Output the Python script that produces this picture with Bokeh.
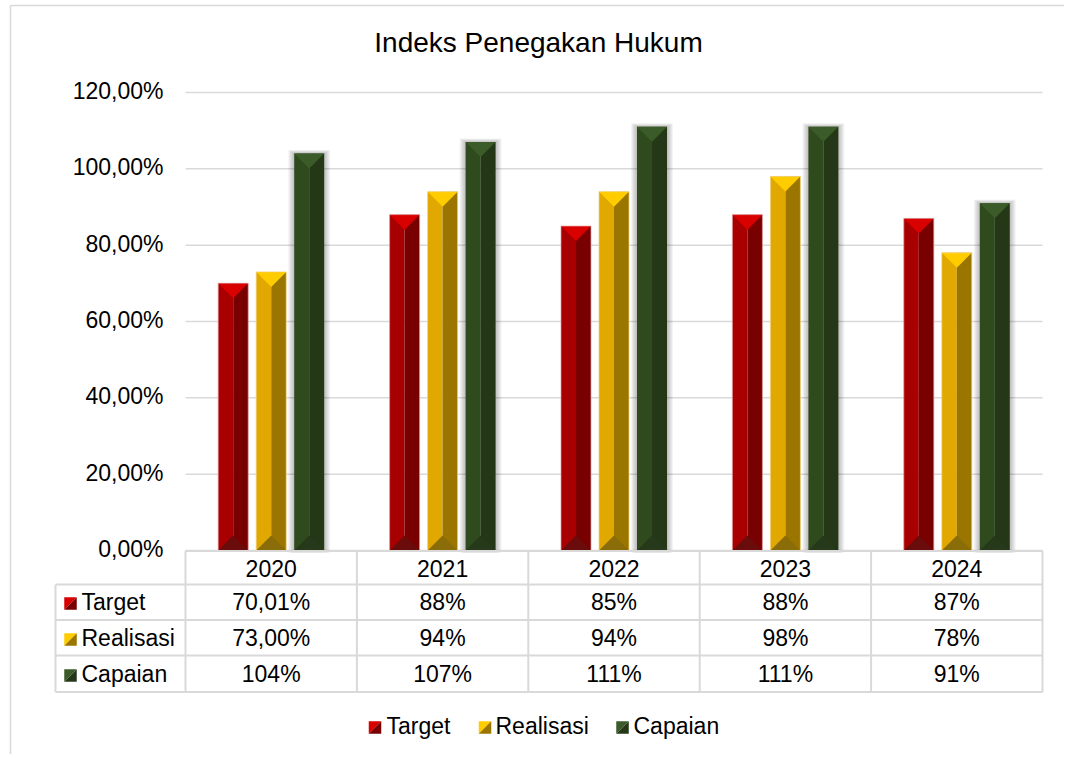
import numpy as np
from bokeh.plotting import figure
from bokeh.models import Range1d
from bokeh.core.properties import value
from bokeh.embed import file_html
from bokeh.resources import INLINE

# ---------------- data ----------------
categories = ["2020", "2021", "2022", "2023", "2024"]
series_names = ["Target", "Realisasi", "Capaian"]
target = [70.01, 88, 85, 88, 87]
realisasi = [73, 94, 94, 98, 78]
capaian = [104, 107, 111, 111, 91]
target_labels = ["70,01%", "88%", "85%", "88%", "87%"]
realisasi_labels = ["73,00%", "94%", "94%", "98%", "78%"]
capaian_labels = ["104%", "107%", "111%", "111%", "91%"]
y_ticks = [0, 20, 40, 60, 80, 100, 120]
y_tick_labels = ["0,00%", "20,00%", "40,00%", "60,00%", "80,00%", "100,00%", "120,00%"]
title_text = "Indeks Penegakan Hukum"

# ---------------- layout (pixels of the picture) ----------------
W, H = 1064, 754
OFF = 0
PL, PR = 185.0, 1042.0      # plot area left/right
P0, P120 = 550.0, 92.0      # y pixel of 0% and 120%
SX = (PR - PL) / len(categories)
SY = (P0 - P120) / 120.0

def dx(px):
    return px / SX
def dy(px):
    return px / SY
def X(img_x):
    return (img_x - PL) / SX
def Y(img_y):
    return (P0 - img_y) / SY

FONT = value("Liberation Sans")
GRID = "#D9D9D9"

p = figure(width=W, height=H,
           x_range=Range1d(X(OFF), X(OFF + W)),
           y_range=Range1d(Y(OFF + H), Y(OFF)),
           x_axis_type=None, y_axis_type=None,
           output_backend="svg", toolbar_location=None,
           min_border=0, outline_line_color=None)
p.grid.visible = False
p.background_fill_color = "white"
p.border_fill_color = "white"

# chart border (left and top)
p.segment(x0=[X(10), X(10)], y0=[Y(5), Y(5)], x1=[X(10), X(1080)], y1=[Y(780), Y(5)],
          line_color=GRID, line_width=1.5)

# grid lines + tick labels
p.segment(x0=[X(PL)] * len(y_ticks), y0=y_ticks, x1=[X(PR)] * len(y_ticks), y1=y_ticks,
          line_color=GRID, line_width=1.5)
p.text(x=[X(163)] * len(y_ticks), y=[t + dy(1.5) for t in y_ticks], text=y_tick_labels,
       text_font=FONT, text_font_size="23px", text_align="right", text_baseline="middle",
       text_color="black")

# title
p.text(x=[X(538)], y=[Y(42)], text=[title_text], text_font=FONT, text_font_size="28px",
       text_align="center", text_baseline="middle", text_color="black")

# ---------------- bars ----------------
colors = {
    "Target":    dict(left="#A80000", right="#780000", top="#D90000", bot="#6A0C0C", edge="#E29A9A"),
    "Realisasi": dict(left="#E0A800", right="#9A7600", top="#FFCC00", bot="#8A6C08", edge="#F2D27A"),
    "Capaian":   dict(left="#2F4B1E", right="#243818", top="#3B5C28", bot="#26391B", edge=None),
}
values = {"Target": target, "Realisasi": realisasi, "Capaian": capaian}
offsets = {"Target": -dx(38), "Realisasi": 0.0, "Capaian": dx(38)}
BW = dx(30)
D = dy(15)
idx = np.arange(len(categories)) + 0.5

# shadow for Capaian
vals_c = np.array(capaian, dtype=float)
xc_c = idx + offsets["Capaian"]
for k in range(1, 7):
    p.quad(left=xc_c - BW / 2 - dx(k), right=xc_c + BW / 2 + dx(k),
           bottom=np.zeros_like(vals_c) - dy(min(k, 2)), top=vals_c + dy(k * 0.6),
           fill_color="black", fill_alpha=0.045, line_color=None)

for name in series_names:
    v = np.array(values[name], dtype=float)
    c = colors[name]
    xc = idx + offsets[name]
    xl = xc - BW / 2
    xr = xc + BW / 2
    zero = np.zeros_like(v)
    p.quad(left=xl, right=xc, bottom=zero, top=v, fill_color=c["left"], line_color=None)
    p.quad(left=xc, right=xr, bottom=zero, top=v, fill_color=c["right"], line_color=None)
    p.patches(xs=[[a, b, m] for a, b, m in zip(xl, xr, xc)],
              ys=[[t, t, t - D] for t in v], fill_color=c["top"], line_color=None)
    p.patches(xs=[[a, b, m] for a, b, m in zip(xl, xr, xc)],
              ys=[[0, 0, D] for _ in v], fill_color=c["bot"], line_color=None)
    if c["edge"]:
        p.quad(left=xl, right=xr, bottom=zero, top=v, fill_color=None,
               line_color=c["edge"], line_width=1, line_alpha=0.7)

# ---------------- data table ----------------
rows = [550.5, 584.0, 619.5, 655.0, 691.5]
col_edges = [PL + i * SX for i in range(len(categories) + 1)]
p.segment(x0=[X(PL)], y0=[Y(rows[0])], x1=[X(PR)], y1=[Y(rows[0])], line_color=GRID, line_width=2)
p.segment(x0=[X(55)] * 4, y0=[Y(r) for r in rows[1:]], x1=[X(PR)] * 4, y1=[Y(r) for r in rows[1:]],
          line_color=GRID, line_width=2)
p.segment(x0=[X(c) for c in col_edges], y0=[Y(rows[0])] * len(col_edges),
          x1=[X(c) for c in col_edges], y1=[Y(rows[-1])] * len(col_edges),
          line_color=GRID, line_width=2)
p.segment(x0=[X(55)], y0=[Y(rows[1])], x1=[X(55)], y1=[Y(rows[-1])], line_color=GRID, line_width=2)

p.text(x=list(idx), y=[Y(568)] * len(categories), text=categories, text_font=FONT,
       text_font_size="23px", text_align="center", text_baseline="middle", text_color="black")
row_centers = [601.5, 637.5, 673.5]
row_labels = [target_labels, realisasi_labels, capaian_labels]
for rc, labs in zip(row_centers, row_labels):
    p.text(x=list(idx), y=[Y(rc)] * len(labs), text=labs, text_font=FONT,
           text_font_size="23px", text_align="center", text_baseline="middle", text_color="black")

def legend_square(cx_img, cy_img, c, size=12.5):
    h = size / 2
    x0, x1 = X(cx_img - h), X(cx_img + h)
    y0, y1 = Y(cy_img + h), Y(cy_img - h)
    p.patches(xs=[[x0, x1, x0], [x1, x1, x0]], ys=[[y1, y1, y0], [y1, y0, y0]],
              fill_color=[c["top"], c["right"]], line_color=None)

for name, rc in zip(series_names, row_centers):
    legend_square(70, rc + 1.5, colors[name])
p.text(x=[X(81)] * 3, y=[Y(rc) for rc in row_centers], text=series_names, text_font=FONT,
       text_font_size="23px", text_align="left", text_baseline="middle", text_color="black")

# ---------------- bottom legend ----------------
leg_sq = [374.5, 484.5, 622.0]
leg_tx = [386.0, 495.0, 633.0]
for name, sx in zip(series_names, leg_sq):
    legend_square(sx, 727.0, colors[name])
p.text(x=[X(t) for t in leg_tx], y=[Y(725.5)] * 3, text=series_names, text_font=FONT,
       text_font_size="23px", text_align="left", text_baseline="middle", text_color="black")

open("out.html", "w").write(file_html(p, INLINE))
